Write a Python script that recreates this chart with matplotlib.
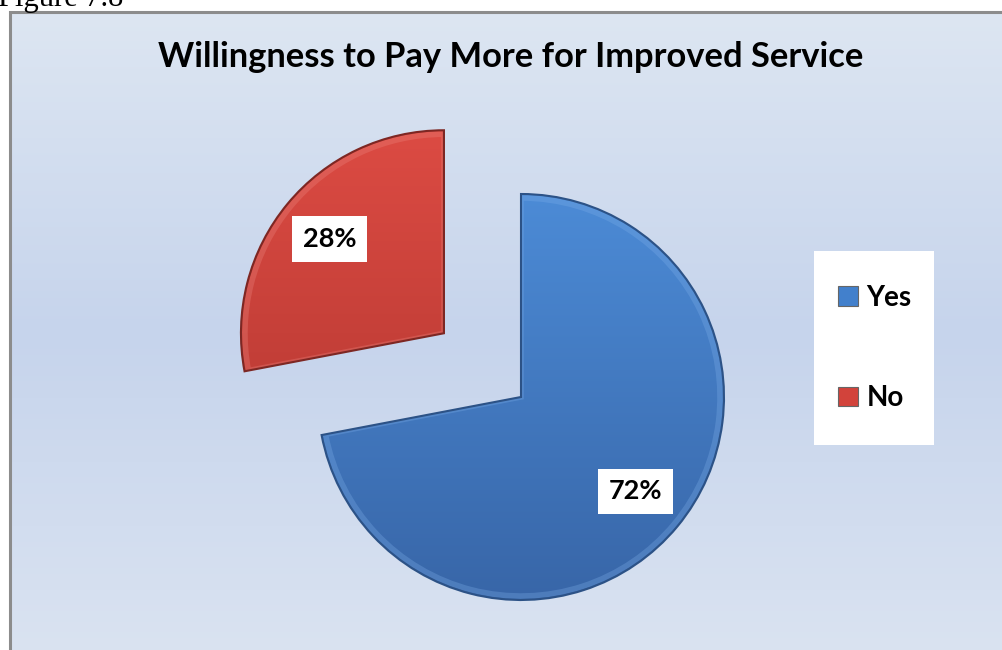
import numpy as np
import matplotlib.pyplot as plt
from matplotlib.patches import Rectangle, Wedge
from matplotlib.colors import LinearSegmentedColormap

# survey answers (percent)
labels = ['Yes', 'No']
shares = [72, 28]
title = 'Willingness to Pay More for Improved Service'

W, H = 1002, 650
fig = plt.figure(figsize=(W / 100, H / 100), dpi=100)
fig.patch.set_facecolor('white')

# pixel-unit axes over the whole figure
ax = fig.add_axes([0, 0, 1, 1])
ax.set_xlim(0, W)
ax.set_ylim(0, H)
ax.axis('off')

# chart area: grey frame with a soft vertical gradient
bg = LinearSegmentedColormap.from_list('bg', ['#dde6f2', '#c6d4ec', '#dae3f1'])
grad = np.linspace(0, 1, 256).reshape(-1, 1)
ax.imshow(grad, cmap=bg, extent=(10, W + 5, -5, H - 12), aspect='auto', zorder=0)
ax.add_patch(Rectangle((10, -5), W, H - 7, fill=False, edgecolor='#8c8c8c', lw=2.2, zorder=1))

ax.text(-2, H - 6, 'Figure 7.8', family='Liberation Serif', fontsize=22,
        va='baseline', ha='left', zorder=2)
ax.text(511, H - 57, title, family='Lato', fontweight='bold', fontsize=24.8,
        ha='center', va='center', zorder=2)

colors = ['#4280cc', '#d2433b']
tops = ['#4c8bd6', '#dc4b43']
bottoms = ['#3866a8', '#b0352f']
edges = ['#2c5286', '#7d2723']
shines = ['#7fb0ea', '#ee8a84']

wedges, texts, autotexts = ax.pie(
    shares, radius=203, center=(521, H - 397), startangle=90, counterclock=False,
    explode=[0, 100], colors=colors, autopct='%d%%', pctdistance=0.73,
    wedgeprops=dict(edgecolor='none', linewidth=0, zorder=3),
    textprops=dict(family='Lato', fontweight='bold', fontsize=19.5, zorder=6))
ax.set_xlim(0, W)
ax.set_ylim(0, H)
ax.set_aspect('auto')

# gradient fill clipped to each slice, soft bevel highlight and dark rim
for w, c0, c1, ec, hc in zip(wedges, tops, bottoms, edges, shines):
    cm = LinearSegmentedColormap.from_list('w', [c1, c0])
    x0, y0 = w.center
    r = w.r
    im = ax.imshow(grad, cmap=cm, origin='lower', aspect='auto',
                   extent=(x0 - r, x0 + r, y0 - r, y0 + r), zorder=4)
    im.set_clip_path(w)
    glow = Wedge(w.center, r - 4, w.theta1, w.theta2, fill=False,
                 edgecolor=hc, lw=4, alpha=0.3, zorder=5)
    glow.set_clip_path(w)
    ax.add_patch(glow)
    ax.add_patch(Wedge(w.center, r, w.theta1, w.theta2, fill=False,
                       edgecolor=ec, lw=1.5, zorder=5))

for t in autotexts:
    t.set_bbox(dict(facecolor='white', edgecolor='none', boxstyle='square,pad=0.4'))

# white legend panel on the right
ax.add_patch(Rectangle((814, H - 445), 120, 194, facecolor='white',
                       edgecolor='none', zorder=6))
leg = ax.legend(wedges, labels, loc='center', bbox_to_anchor=(875 / W, 1 - 348 / H),
                prop=dict(family='Lato', weight='bold', size=20),
                handlelength=0.72, handleheight=0.72, handletextpad=0.3,
                labelspacing=2.68, frameon=False)
leg.set_zorder(7)
for h in leg.legend_handles:
    h.set_edgecolor('#666666')
    h.set_linewidth(0.8)

fig.savefig('out.png', dpi=100)
